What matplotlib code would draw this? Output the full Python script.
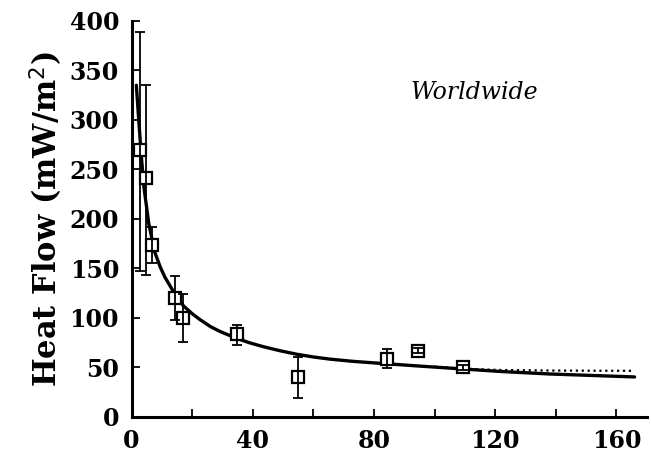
import matplotlib
matplotlib.use("Agg")
import matplotlib.pyplot as plt

# binned heat flow data (age in Myr)
age = [2.7, 4.9, 6.9, 14.4, 17.1, 34.7, 54.8, 84.4, 94.7, 109.5]
heat = [269, 241, 173, 119.5, 99.3, 83, 39.6, 57.8, 66.5, 49.7]
err_top = [388.5, 335, 192, 142, 124, 92.5, 60, 68, 69, 52.5]
err_bot = [147, 143, 155, 98, 75.6, 72.3, 19, 48.7, 64, 47]

# model curve
curve_age = [1.6, 2.5, 3.2, 4.1, 5.7, 7.7, 9.5, 11, 13.7, 17.1, 20, 22.6, 26,
             29.2, 34.7, 39, 43.5, 49, 54.5, 60, 65.5, 73, 81, 95, 109.5,
             122, 138, 152, 166]
curve_q = [335, 295, 265, 232, 195, 166, 151, 141, 127, 112, 104, 98, 91,
           86, 79, 74.5, 70.6, 66.5, 63, 60.2, 58, 55.8, 54, 51, 48,
           45.5, 43, 41.5, 40]
# second model (dotted) where it separates from the first
dot_age = [100, 109.5, 122, 138, 152, 166]
dot_q = [50.5, 48.3, 47, 46.5, 46.3, 46.2]

xticks = [0, 20, 40, 60, 80, 100, 120, 140, 160]
xlabels = ["0", "", "40", "", "80", "", "120", "", "160"]
yticks = [0, 50, 100, 150, 200, 250, 300, 350, 400]

plt.rcParams["font.family"] = "DejaVu Serif"

fig = plt.figure(figsize=(6.51, 4.55), dpi=100)
ax = fig.add_axes([0.202, 0.0846, 0.7914, 0.8694])

ax.plot(curve_age, curve_q, "k-", lw=2.4, solid_capstyle="round",
        solid_joinstyle="round", zorder=2)
ax.plot(dot_age, dot_q, "k:", lw=1.6, zorder=2)

lower = [h - b for h, b in zip(heat, err_bot)]
upper = [t - h for h, t in zip(heat, err_top)]
ax.plot(age, heat, "s", ms=8, mfc="white", mec="black", mew=1.6, zorder=3)
ax.errorbar(age, heat, yerr=[lower, upper], fmt="none", ecolor="black",
            elinewidth=1.3, capsize=3.5, capthick=1.3, zorder=4)

ax.text(113, 328, "Worldwide", style="italic", fontsize=17, ha="center", va="center")

ax.set_xlim(0, 170)
ax.set_ylim(0, 400)
ax.set_xticks(xticks)
ax.set_xticklabels(xlabels)
ax.set_yticks(yticks)
ax.tick_params(direction="in", length=6, width=1.3, labelsize=17, pad=9)
for lab in ax.get_xticklabels() + ax.get_yticklabels():
    lab.set_fontweight("bold")
for side in ["top", "right"]:
    ax.spines[side].set_visible(False)
for side in ["left", "bottom"]:
    ax.spines[side].set_linewidth(2.2)

ax.set_ylabel("Heat Flow (mW/m$^2$)", fontsize=22, fontweight="bold", labelpad=3)

fig.savefig("out.png", dpi=100)
